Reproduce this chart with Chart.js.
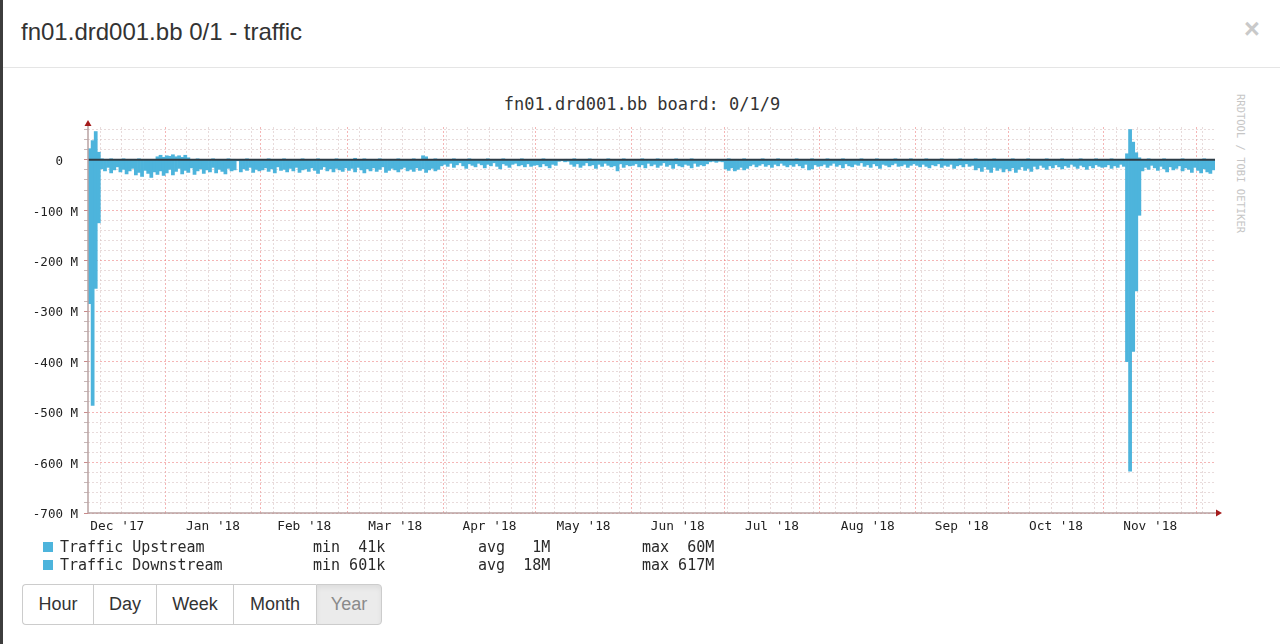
<!DOCTYPE html>
<html>
<head>
<meta charset="utf-8">
<title>fn01.drd001.bb 0/1 - traffic</title>
<script src="https://cdn.jsdelivr.net/npm/chart.js@4.4.0/dist/chart.umd.min.js"></script>
<style>
  html, body { margin: 0; padding: 0; }
  body { width: 1280px; height: 644px; overflow: hidden; background: #3d3d3d; position: relative;
         font-family: "Liberation Sans", Arial, sans-serif; color: #333; }
  .modal { position: absolute; left: 3px; top: 0; width: 1277px; height: 644px; background: #fff; }
  .modal-head { position: absolute; left: 3px; top: 0; width: 1277px; height: 67px; border-bottom: 1px solid #e5e5e5; }
  .modal-title { position: absolute; left: 21px; top: 17px; font-size: 24px; line-height: 30px; color: #333; white-space: nowrap; }
  .close { position: absolute; left: 1244px; top: 14px; font-size: 27px; line-height: 30px; font-weight: bold; color: #c9c9c9; }
  .graph-title { position: absolute; left: 0; top: 94px; width: 1284px; text-align: center;
                 font: 17px/20px "DejaVu Sans Mono", monospace; color: #333; }
  .watermark { position: absolute; left: 1235px; top: 94px; writing-mode: vertical-rl;
               font: 10.5px/12px "DejaVu Sans Mono", monospace; color: #c6c6c6; white-space: nowrap; }
  #rrd { position: absolute; left: 0; top: 80px; }
  .legend-row { position: absolute; left: 0; height: 18px; font: 15px/18px "DejaVu Sans Mono", monospace; color: #2a2a2a; white-space: pre; }
  .legend-row span { position: absolute; top: 0; }
  .legend-row i { position: absolute; left: 43px; top: 4px; width: 10px; height: 10px; background: #4db4dc; }
  .btn-group { position: absolute; left: 22px; top: 584px; height: 41px; display: flex; }
  .btn { box-sizing: border-box; height: 41px; border: 1px solid #ccc; border-right: none; background: #fff;
         font-size: 18px; line-height: 39px; text-align: center; color: #333; }
  .btn:first-child { border-radius: 4px 0 0 4px; }
  .btn:last-child { border-right: 1px solid #ccc; border-radius: 0 4px 4px 0; }
  .btn.active { background: #ebebeb; color: #8a8a8a; box-shadow: inset 0 3px 5px rgba(0,0,0,0.06); }
</style>
</head>
<body>
<div class="modal"></div>
<div class="modal-head"></div>
<div class="modal-title">fn01.drd001.bb 0/1 - traffic</div>
<div class="close">&times;</div>

<div class="graph-title">fn01.drd001.bb board: 0/1/9</div>
<div class="watermark">RRDTOOL / TOBI OETIKER</div>
<canvas id="rrd" width="1280" height="460"></canvas>
<div id="legend"></div>
<div class="btn-group" id="periods"></div>

<script>
// --- data: one value per day, Mbit/s, first day = 7 Dec 2017 ---
const START = Date.UTC(2017, 11, 7);

const upstream = [
  22, 38, 56, 15, 2, 1, 1, 2, 1, 1, 1, 2, 1, 1, 1, 1, 2, 1, 1, 1, 1, 1, 6, 9, 5,               // Dec 17 (from 7th)
  8, 7, 10, 6, 8, 5, 9, 4, 1, 1, 2, 1, 1, 1, 1, 2, 1, 1, 1, 1, 2, 1, 1, 0, 1, 1, 2, 1, 1, 1, 1, // Jan
  1, 1, 2, 1, 1, 1, 1, 2, 1, 1, 1, 1, 1, 2, 1, 1, 1, 1, 2, 1, 1, 1, 1, 1, 2, 1, 1, 1,          // Feb
  1, 1, 3, 1, 1, 2, 1, 1, 1, 1, 2, 1, 1, 1, 1, 1, 2, 1, 1, 1, 1, 2, 1, 1, 8, 6, 1, 1, 2, 1, 1, // Mar
  1, 1, 1, 2, 1, 1, 1, 1, 2, 1, 1, 1, 1, 1, 2, 1, 1, 1, 1, 2, 1, 1, 1, 1, 1, 2, 1, 1, 1, 1,    // Apr
  1, 1, 2, 1, 1, 1, 1, 0, 0, 1, 1, 1, 2, 1, 1, 1, 1, 2, 1, 1, 1, 1, 1, 2, 1, 1, 1, 1, 2, 1, 1, // May
  1, 1, 1, 2, 1, 1, 1, 1, 2, 1, 1, 1, 1, 1, 2, 1, 1, 1, 1, 2, 1, 1, 1, 1, 1, 0, 0, 1, 0, 1,    // Jun
  1, 2, 1, 1, 1, 1, 2, 1, 1, 1, 1, 1, 2, 1, 1, 1, 1, 2, 1, 1, 1, 1, 1, 2, 1, 1, 1, 1, 2, 1, 1, // Jul
  1, 1, 2, 1, 1, 1, 1, 2, 1, 1, 1, 1, 1, 2, 1, 1, 1, 1, 2, 1, 1, 1, 1, 1, 2, 1, 1, 1, 1, 2, 1, // Aug
  1, 1, 1, 2, 1, 1, 1, 1, 2, 1, 1, 1, 1, 1, 2, 1, 1, 1, 1, 2, 1, 1, 1, 1, 1, 2, 1, 1, 1, 1,    // Sep
  1, 2, 1, 1, 1, 1, 2, 1, 1, 1, 1, 1, 2, 1, 1, 1, 1, 2, 1, 1, 1, 1, 1, 2, 1, 1, 1, 1, 2, 1, 1, // Oct
  1, 1, 2, 1, 1, 1, 1, 12, 60, 35, 14, 4, 1, 1, 2, 1, 1, 1, 1, 2, 1, 1, 1, 1, 1, 2, 1, 1, 1, 1, // Nov
  1, 1, 2, 1, 1, 1                                                                              // Dec 18 (to 6th)
];

// downstream is plotted below zero
const downstream = [
  285, 487, 255, 125, 18, 22, 15, 26, 20, 14, 24, 19, 28, 22, 17, 30, 25, 33, 21, 27, 35, 24, 29, 22, 31,
  26, 19, 30, 23, 17, 28, 21, 25, 16, 29, 22, 18, 27, 20, 24, 15, 26, 19, 23, 28, 17, 22, 20, 2, 24, 18, 21, 15, 25, 19, 22,
  20, 16, 23, 18, 26, 14, 21, 19, 24, 17, 22, 15, 25, 20, 18, 23, 16, 21, 27, 19, 14, 22, 18, 24, 17, 20, 23, 16,
  21, 17, 24, 15, 20, 26, 18, 22, 16, 23, 19, 14, 25, 21, 17, 20, 24, 18, 15, 22, 19, 23, 16, 21, 18, 25, 20, 17, 22, 19, 12,
  9, 13, 7, 15, 10, 6, 12, 17, 8, 11, 14, 7, 10, 16, 9, 12, 6, 13, 18, 8, 11, 15, 9, 7, 12, 10, 14, 8, 13, 11,
  10, 14, 8, 12, 16, 9, 11, 3, 2, 4, 3, 9, 13, 8, 15, 11, 6, 12, 10, 17, 9, 13, 7, 11, 14, 12, 22, 8, 15, 10, 12,
  11, 8, 14, 10, 16, 7, 12, 9, 15, 11, 6, 13, 10, 17, 8, 12, 14, 9, 11, 16, 7, 13, 10, 12, 8, 4, 3, 5, 3, 4,
  18, 21, 16, 22, 19, 15, 20, 17, 12, 9, 14, 11, 8, 13, 10, 15, 9, 12, 7, 11, 14, 10, 13, 8, 12, 16, 9, 20, 18, 10, 13,
  12, 9, 15, 11, 7, 13, 10, 16, 8, 12, 14, 9, 11, 6, 13, 10, 15, 8, 12, 17, 9, 11, 14, 10, 7, 13, 12, 9, 15, 11, 8,
  11, 14, 9, 13, 16, 10, 12, 8, 15, 11, 13, 9, 17, 12, 10, 14, 8, 13, 11, 20, 16, 23, 14, 19, 25, 15, 21, 17, 24, 18,
  22, 16, 25, 19, 14, 21, 17, 23, 13, 18, 11, 15, 19, 12, 16, 10, 14, 18, 12, 15, 9, 13, 17, 11, 14, 19, 12, 16, 10, 13, 15,
  14, 10, 17, 12, 15, 9, 13, 400, 617, 380, 260, 110, 22, 15, 19, 11, 16, 21, 13, 18, 24, 14, 20, 17, 12, 22, 16, 19, 25, 15,
  21, 26, 18, 24, 27, 20
];

const zeroRule = [0, 0]; // HRULE at 0, from first to last day

const monthStarts = ['2017-12-01', '2018-01-01', '2018-02-01', '2018-03-01', '2018-04-01', '2018-05-01', '2018-06-01',
                     '2018-07-01', '2018-08-01', '2018-09-01', '2018-10-01', '2018-11-01', '2018-12-01'];
const monthLabels = ["Dec '17", "Jan '18", "Feb '18", "Mar '18", "Apr '18", "May '18",
                     "Jun '18", "Jul '18", "Aug '18", "Sep '18", "Oct '18", "Nov '18"];
const firstMonday = '2017-12-11';

const yMin = -700, yMax = 65, yStep = 20, yLabelStep = 100;

const legendRows = [
  ['Traffic Upstream',   'min  41k', 'avg   1M', 'max  60M'],
  ['Traffic Downstream', 'min 601k', 'avg  18M', 'max 617M']
];
const periods = ['Hour', 'Day', 'Week', 'Month', 'Year'];
const activePeriod = 'Year';

// --- styles ---
const BLUE = '#4db4dc';
const MONO = '"DejaVu Sans Mono", monospace';
const MAJOR_GRID = 'rgba(236, 120, 120, 0.55)';
const MINOR_GRID = 'rgba(214, 190, 190, 0.55)';

// --- derived positions (days since START) ---
const DAYS = downstream.length;
const dayOf = iso => (Date.parse(iso + 'T00:00:00Z') - START) / 86400000;
const monthDays = monthStarts.map(dayOf);
const labelDays = monthLabels.map((l, i) => (monthDays[i] + monthDays[i + 1]) / 2);

const gridDays = new Map();
for (let d = dayOf(firstMonday); d < DAYS; d += 7) gridDays.set(d, false);
monthDays.forEach(d => { if (d > 0 && d < DAYS) gridDays.set(d, true); });
const xGridTicks = [...gridDays.entries()].sort((a, b) => a[0] - b[0]).map(([value, major]) => ({ value, major }));

const yGridTicks = [];
for (let v = yMin; v <= yMax; v += yStep) yGridTicks.push({ value: v });

// --- axis lines with arrows, like rrdtool ---
const rrdAxes = {
  id: 'rrdAxes',
  afterDatasetsDraw(chart) {
    const { ctx, chartArea: a } = chart;
    ctx.save();
    ctx.lineWidth = 1.5;
    ctx.strokeStyle = '#b9a3a3';
    ctx.beginPath();
    ctx.moveTo(a.left, a.bottom);
    ctx.lineTo(a.left, a.top - 3);
    ctx.moveTo(a.left, a.bottom);
    ctx.lineTo(a.right + 3, a.bottom);
    ctx.stroke();
    ctx.fillStyle = '#a51c1c';
    ctx.beginPath();
    ctx.moveTo(a.left - 3.5, a.top - 1);
    ctx.lineTo(a.left + 3.5, a.top - 1);
    ctx.lineTo(a.left, a.top - 7);
    ctx.closePath();
    ctx.fill();
    ctx.beginPath();
    ctx.moveTo(a.right + 1, a.bottom - 3.5);
    ctx.lineTo(a.right + 1, a.bottom + 3.5);
    ctx.lineTo(a.right + 7, a.bottom);
    ctx.closePath();
    ctx.fill();
    ctx.restore();
  }
};

const barSet = (label, values, sign) => ({
  label,
  data: values.map((v, i) => ({ x: i + 0.5, y: sign * v })),
  backgroundColor: BLUE,
  borderWidth: 0,
  barPercentage: 1,
  categoryPercentage: 1,
  grouped: false,
  xAxisID: 'x',
  yAxisID: 'y',
  order: 2
});

new Chart(document.getElementById('rrd'), {
  type: 'bar',
  data: {
    datasets: [
      barSet('Traffic Upstream', upstream, 1),
      barSet('Traffic Downstream', downstream, -1),
      {
        type: 'line',
        label: 'zero',
        data: zeroRule.map((v, i) => ({ x: i * DAYS, y: v })),
        borderColor: '#2e3b44',
        borderWidth: 2,
        pointRadius: 0,
        xAxisID: 'x',
        yAxisID: 'y',
        order: 1
      }
    ]
  },
  options: {
    responsive: false,
    animation: false,
    events: [],
    layout: { padding: { top: 47, right: 65, left: 0, bottom: 0 } },
    plugins: { legend: { display: false }, tooltip: { enabled: false } },
    scales: {
      x: {
        type: 'linear', position: 'bottom', min: 0, max: DAYS, offset: false,
        grid: { offset: false, drawTicks: false, lineWidth: 1,
                color: c => (c.tick && c.tick.major) ? MAJOR_GRID : MINOR_GRID },
        border: { display: false, dash: [2, 2] },
        ticks: { display: false, autoSkip: false },
        afterBuildTicks: s => { s.ticks = xGridTicks.map(t => ({ ...t })); },
        afterFit: s => { s.height = 0; }
      },
      xl: {
        type: 'linear', position: 'bottom', min: 0, max: DAYS, offset: false,
        grid: { display: false, drawTicks: false, offset: false },
        border: { display: false },
        ticks: { autoSkip: false, maxRotation: 0, padding: 6, color: '#222',
                 font: { family: MONO, size: 12.8 },
                 callback: (v, i) => monthLabels[i] },
        afterBuildTicks: s => { s.ticks = labelDays.map(value => ({ value })); },
        afterFit: s => { s.height = 27; }
      },
      y: {
        type: 'linear', min: yMin, max: yMax,
        grid: { drawTicks: true, tickLength: 4, lineWidth: 1, tickBorderDash: [],
                color: c => (c.tick && c.tick.value % yLabelStep === 0) ? MAJOR_GRID : MINOR_GRID,
                tickColor: c => (c.tick && c.tick.value % yLabelStep === 0) ? '#c98a8a' : '#c8b8b8' },
        border: { display: false, dash: [2, 2] },
        ticks: { autoSkip: false, padding: 6, labelOffset: 2, color: '#222', font: { family: MONO, size: 12.5 },
                 callback: v => v % yLabelStep !== 0 ? '' : (v === 0 ? '0  ' : v + ' M') },
        afterBuildTicks: s => { s.ticks = yGridTicks.map(t => ({ ...t })); },
        afterFit: s => { s.width = 88; }
      }
    }
  },
  plugins: [rrdAxes]
});

// --- legend under the graph ---
const legend = document.getElementById('legend');
legendRows.forEach((row, r) => {
  const div = document.createElement('div');
  div.className = 'legend-row';
  div.style.top = (538 + r * 18) + 'px';
  div.innerHTML = `<i></i><span style="left:60px">${row[0]}</span>` +
    `<span style="left:313px">${row[1]}</span><span style="left:478px">${row[2]}</span><span style="left:642px">${row[3]}</span>`;
  legend.appendChild(div);
});

// --- period buttons ---
const btnWidths = [71, 63, 77, 83, 66];
const group = document.getElementById('periods');
periods.forEach((p, i) => {
  const b = document.createElement('div');
  b.className = 'btn' + (p === activePeriod ? ' active' : '');
  b.style.width = btnWidths[i] + 'px';
  b.textContent = p;
  group.appendChild(b);
});
</script>
</body>
</html>
